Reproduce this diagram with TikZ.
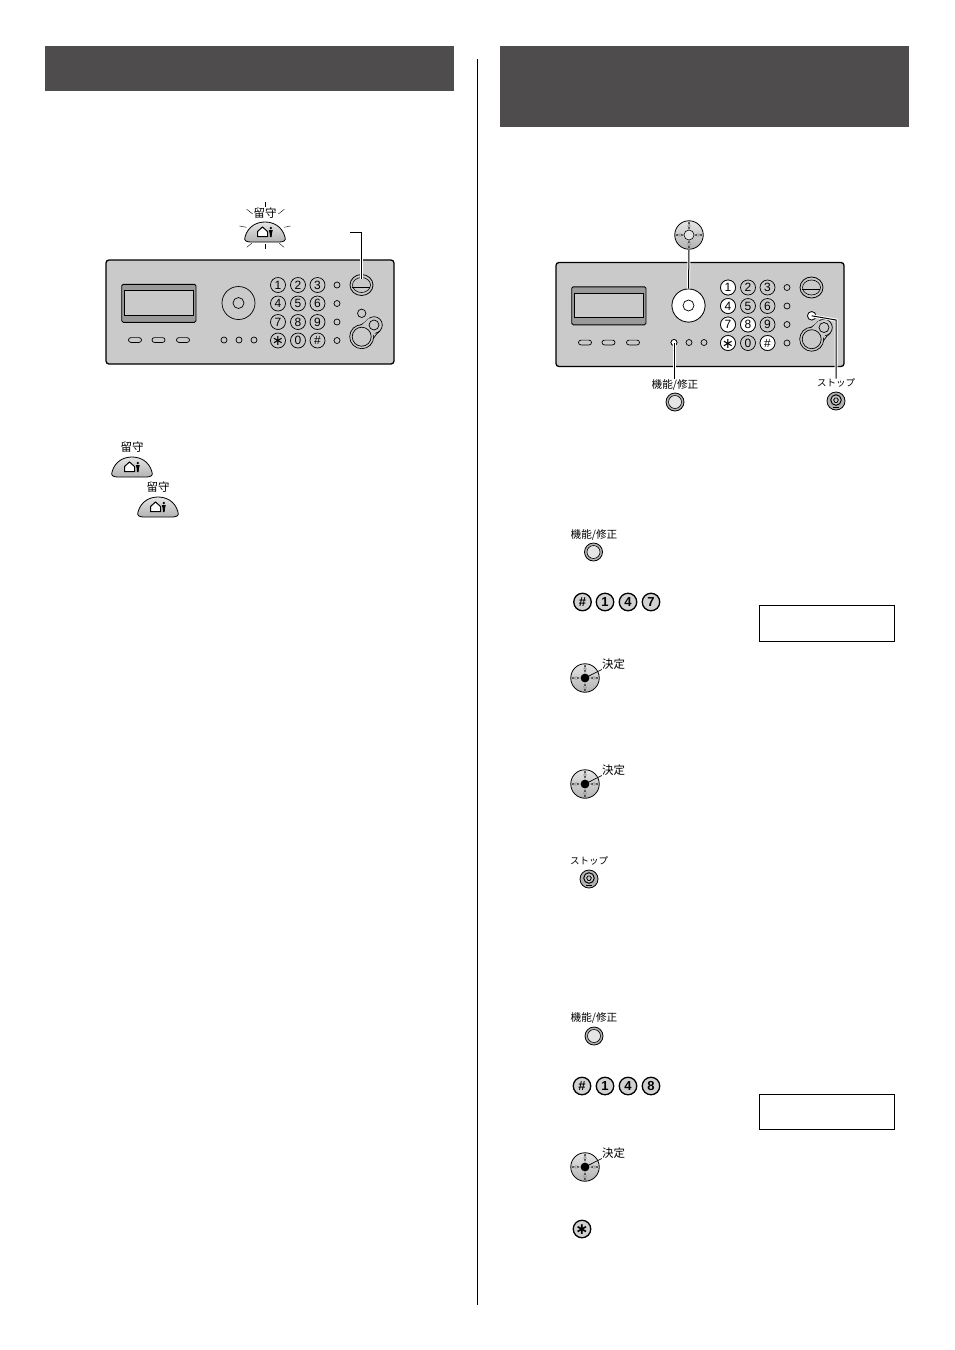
\documentclass[tikz,border=0pt]{standalone}
\usepackage{fontspec}
\setmainfont{Liberation Sans}
\newfontfamily\cjk{Noto Sans CJK JP}
\newfontfamily\dejavu{DejaVu Sans}
\usepackage{xcolor}
\definecolor{cBar}{HTML}{4E4C4D}
\definecolor{cPanel}{HTML}{CACACA}
\definecolor{cKey}{HTML}{D2D2D2}
\definecolor{cShade}{HTML}{9A9A9A}
\usetikzlibrary{calc,shapes.geometric}
\newcommand{\keyhash}{\#}
\newcommand{\keystar}{\raisebox{-0.42em}[0pt][0pt]{\makebox[0pt]{\dejavu\scalebox{1.2}{∗}}}}
\tikzset{
  title-bar/.style={fill=cBar,draw=none},
  divider/.style={draw=black,line width=0.9pt},
  lcd-box/.style={draw=black,line width=0.7pt,fill=white},
  panel-body/.style={draw=black,line width=1.3pt,fill=cPanel,rounded corners=3pt},
  panel-line/.style={draw=black,line width=0.7pt},
  key-digit/.style={draw=black,line width=0.7pt,circle,inner sep=0pt,minimum size=15pt,font=\fontsize{12}{12}\selectfont},
  key-lit/.style={fill=white},
  key-big/.style={draw=black,line width=1.3pt,circle,inner sep=0pt,minimum size=17.5pt,fill=cKey,font=\bfseries\fontsize{13}{13}\selectfont},
  key-dot/.style={draw=black,line width=0.7pt,circle,inner sep=0pt,minimum size=6pt},
  key-soft/.style={draw=black,line width=0.7pt,rounded corners=2.4pt,minimum width=13pt,minimum height=4.8pt,inner sep=0pt},
  key-round/.style={draw=black,line width=0.8pt,circle,inner sep=0pt,minimum size=18pt,fill=cKey!85!black},
  leader/.style={draw=black,line width=1pt,preaction={draw=white,line width=3pt}},
  thin-leader/.style={draw=black,line width=0.7pt},
  ray/.style={draw=black,line width=0.4pt},
  key-label/.style={font=\cjk\fontsize{11.5}{11.5}\selectfont,inner sep=0pt},
  key-wide/.style={font=\cjk\fontsize{10.6}{10.6}\selectfont,inner sep=0pt},
  key-kana/.style={font=\cjk\fontsize{9.5}{9.5}\selectfont,inner sep=0pt},
  panel/.pic={
    \draw[panel-body] (0,0) rectangle (288,104);
    \draw[line width=0.9pt,fill=cShade,rounded corners=1.5pt] (15.7,24.3) rectangle (90,62.3);
    \draw[line width=0.5pt,fill=cPanel] (18,30.7) rectangle (87.3,55);
    \foreach \sname/\x in {s1/29,s2/52.5,s3/77}
      \node[key-soft] (-\sname) at (\x,80) {};
    \node[draw=black,line width=0.7pt,circle,minimum size=33pt,inner sep=0pt] (-dial) at (132.5,43) {};
    \node[key-dot,minimum size=11pt] (-ok) at (132.5,43) {};
    \foreach \fname/\x in {f1/118,f2/133,f3/148}
      \node[key-dot] (-\fname) at (\x,80) {};
    \foreach \dname/\lab/\x/\y in {d1/1/172/25,d2/2/192/25,d3/3/211.5/25,
      d4/4/172/43.5,d5/5/192/43.5,d6/6/211.5/43.5,
      d7/7/172/62,d8/8/192/62,d9/9/211.5/62,
      ds/\keystar/172/80.5,d0/0/192/80.5,dh/\keyhash/211.5/80.5}
      \node[key-digit] (-\dname) at (\x,\y) {\lab};
    \foreach \cname/\y in {c1/25,c2/43.5,c3/62,c4/80.5}
      \node[key-dot] (-\cname) at (231,\y) {};
    % answer key
    \node[draw=black,line width=0.8pt,ellipse,minimum width=23pt,minimum height=21pt,inner sep=0pt] (-ans) at (255.5,25) {};
    \node[draw=black,line width=0.6pt,ellipse,minimum width=18pt,minimum height=15pt,inner sep=0pt] (-ansin) at (255.5,25) {};
    \draw[panel-line] (-ansin.west) ++(0,2) -- ++(18,0);
    % stop and start keys
    \node[key-dot,minimum size=8.4pt] (-stop) at (255.7,53.3) {};
    \draw[panel-line,fill=cPanel] (247.2,68.2) .. controls (253,66.5) and (258,63.5) .. (262.1,59.1)
      -- (273.9,70.9) .. controls (269,75) and (266,80) .. (264.2,85.2) -- cycle;
    \node[draw=black,line width=0.7pt,circle,minimum size=24pt,inner sep=0pt,fill=cPanel] (-go) at (255.7,76.7) {};
    \node[draw=black,line width=0.7pt,circle,minimum size=16.6pt,inner sep=0pt,fill=cPanel] (-fx) at (268,65) {};
    \fill[cPanel] (249,72) -- (263,58) -- (273,68) -- (262,82) -- cycle;
    \node[draw=black,line width=0.7pt,circle,minimum size=19pt,inner sep=0pt] (-goin) at (255.7,76.7) {};
    \node[draw=black,line width=0.7pt,circle,minimum size=10pt,inner sep=0pt] (-fxin) at (268,65) {};
  },
  dome-key/.pic={
    \draw[line width=0.8pt,top color=gray!20,bottom color=gray!60] (-20,5) .. controls (-17,-6) and (-8,-10) .. (0,-10)
      .. controls (8,-10) and (17,-6) .. (20,5) .. controls (21.5,9) and (18,10) .. (14,10)
      -- (-14,10) .. controls (-18,10) and (-21.5,9) .. (-20,5) -- cycle;
    \draw[line width=1pt,fill=white] (-7.5,-0.5) -- (-2.5,-5) -- (2.5,-0.5) -- (2.5,4.5) -- (-7.5,4.5) -- cycle;
    \fill[black] (5.8,-4) circle (1.3);
    \fill[black] (3.8,-2) -- (7.8,-2) -- (7,1) -- (6.6,5) -- (5,5) -- (4.6,1) -- cycle;
  },
  nav-key/.pic={
    \node[draw=black,line width=0.8pt,circle,minimum size=28.5pt,inner sep=0pt,top color=gray!20,bottom color=gray!60] (-body) at (0,0) {};
    \foreach \ang in {0,90,180,270}
      \draw[line width=0.4pt,fill=white,rotate=\ang] (6,0) -- (8.5,-1) -- (13,-0.5) -- (13,0.5) -- (8.5,1) -- cycle;
  },
  stop-key/.pic={
    \node[key-round] (-body) at (0,0) {};
    \node[draw=black,line width=1pt,circle,inner sep=0pt,minimum size=10.5pt,fill=cPanel] (-ring) at (0,-1) {};
    \draw[line width=0.8pt] (-2.4,-1) -- (-1,-3) -- (1,-3) -- (2.4,-1) -- (1,1.4) -- (-1,1.4) -- cycle;
    \draw[line width=0.6pt] (-3,6) -- (3,6);
  },
  func-key/.pic={
    \node[key-round] (-body) at (0,0) {};
    \node[draw=black,line width=0.6pt,circle,inner sep=0pt,minimum size=13pt,fill=gray!20] (-in) at (0,0) {};
  },
}
\begin{document}
\begin{tikzpicture}[x=1pt,y=-1pt]
  \path[use as bounding box,fill=white] (0,0) rectangle (954,1350);
  % title bars and column rule
  \node[title-bar,minimum width=409pt,minimum height=45pt,inner sep=0pt,anchor=north west] (barL) at (45,46) {};
  \node[title-bar,minimum width=409pt,minimum height=81pt,inner sep=0pt,anchor=north west] (barR) at (500,46) {};
  \coordinate (ruleTop) at (477.5,59);
  \coordinate (ruleEnd) at (477.5,1305);
  \draw[divider] (ruleTop) -- (ruleEnd);
  % left panel
  \path (106,260) pic (pL) {panel};
  \node[key-label] (tagA) at (265,213) {留守};
  \path (265,232) pic (domeA) {dome-key};
  \draw[ray] (265,201.7) -- (265,206.7);
  \draw[ray] (246.7,209.3) -- (252.7,214);
  \draw[ray] (284.3,209.3) -- (278.3,214);
  \draw[ray] (239.3,226) -- (246.7,227.3);
  \draw[ray] (290.7,226) -- (284,227.3);
  \draw[ray] (265,244.3) -- (265,249.3);
  \draw[ray] (246.7,247.3) -- (251.7,243.3);
  \draw[ray] (284,247.3) -- (279.3,243.3);
  \coordinate (ansFree) at (350,232);
  \coordinate (ansTip) at (361.5,279);
  \draw[leader] (ansFree) -| (ansTip);
  % left steps
  \node[key-label] (tagB) at (132,447) {留守};
  \path (132,467) pic (domeB) {dome-key};
  \node[key-label] (tagC) at (158,487) {留守};
  \path (158,507) pic (domeC) {dome-key};
  % right panel
  \path (556,262.5) pic (pR) {panel};
  \foreach \dname/\lab in {d1/1,d4/4,d7/7,d8/8,ds/\keystar,dh/\keyhash}
    \node[key-digit,key-lit] at (pR-\dname) {\lab};
  \node[draw=black,line width=0.7pt,circle,minimum size=33pt,inner sep=0pt,fill=white] (dialR) at (pR-dial) {};
  \node[key-dot,minimum size=11pt,fill=white] at (pR-ok) {};
  \node[key-dot,fill=white] (funcR) at (pR-f1) {};
  \node[key-dot,minimum size=8.4pt,fill=white] (stopR) at (pR-stop) {};
  \path (689,235) pic (navT) {nav-key};
  \node[draw=black,line width=0.6pt,circle,inner sep=0pt,minimum size=10pt,fill=gray!20] (navC) at (navT-body) {};
  \draw[leader,line width=1pt] (navT-body.south) -- (dialR.north);
  \node[key-wide] (tagF) at (675,385) {機能/修正};
  \path (675,402) pic (keyF) {func-key};
  \draw[leader] (funcR.center) -- (tagF.north -| funcR);
  \node[key-kana] (tagS) at (836,383) {ストップ};
  \path (836,401) pic (keyS) {stop-key};
  \coordinate (stopBend) at (836,320);
  \draw[leader] (stopR.center) -- (stopBend) -- (tagS.north -| stopBend);
  % right steps, first block
  \node[key-wide] (tag1) at (594,535) {機能/修正};
  \path (593.5,552) pic (key1) {func-key};
  \node[key-big] (r1h) at (582.5,602) {\keyhash};
  \node[key-big] (r1a) at (605,602) {1};
  \node[key-big] (r1b) at (628,602) {4};
  \node[key-big] (r1c) at (651,602) {7};
  \node[lcd-box,minimum width=135pt,minimum height=36pt,inner sep=0pt,anchor=north west] (lcdA) at (759,605) {};
  \path (585,678) pic (ok1) {nav-key};
  \fill[black] (ok1-body) circle (4.4);
  \node[key-label] (okT1) at (613.5,664) {決定};
  \draw[thin-leader] (ok1-body.center) -- (okT1.south west);
  \path (585,784) pic (ok2) {nav-key};
  \fill[black] (ok2-body) circle (4.4);
  \node[key-label] (okT2) at (613.5,770) {決定};
  \draw[thin-leader] (ok2-body.center) -- (okT2.south west);
  \node[key-kana] (tag2) at (589,861) {ストップ};
  \path (589,879) pic (key2) {stop-key};
  % right steps, second block
  \node[key-wide] (tag3) at (594,1018) {機能/修正};
  \path (594,1036) pic (key3) {func-key};
  \node[key-big] (r2h) at (582,1086) {\keyhash};
  \node[key-big] (r2a) at (605,1086) {1};
  \node[key-big] (r2b) at (628,1086) {4};
  \node[key-big] (r2c) at (651,1086) {8};
  \node[lcd-box,minimum width=135pt,minimum height=35pt,inner sep=0pt,anchor=north west] (lcdB) at (759,1094) {};
  \path (585,1167) pic (ok3) {nav-key};
  \fill[black] (ok3-body) circle (4.4);
  \node[key-label] (okT3) at (613.5,1153) {決定};
  \draw[thin-leader] (ok3-body.center) -- (okT3.south west);
  \node[key-big] (r3s) at (582,1229) {\keystar};
\end{tikzpicture}
\end{document}
